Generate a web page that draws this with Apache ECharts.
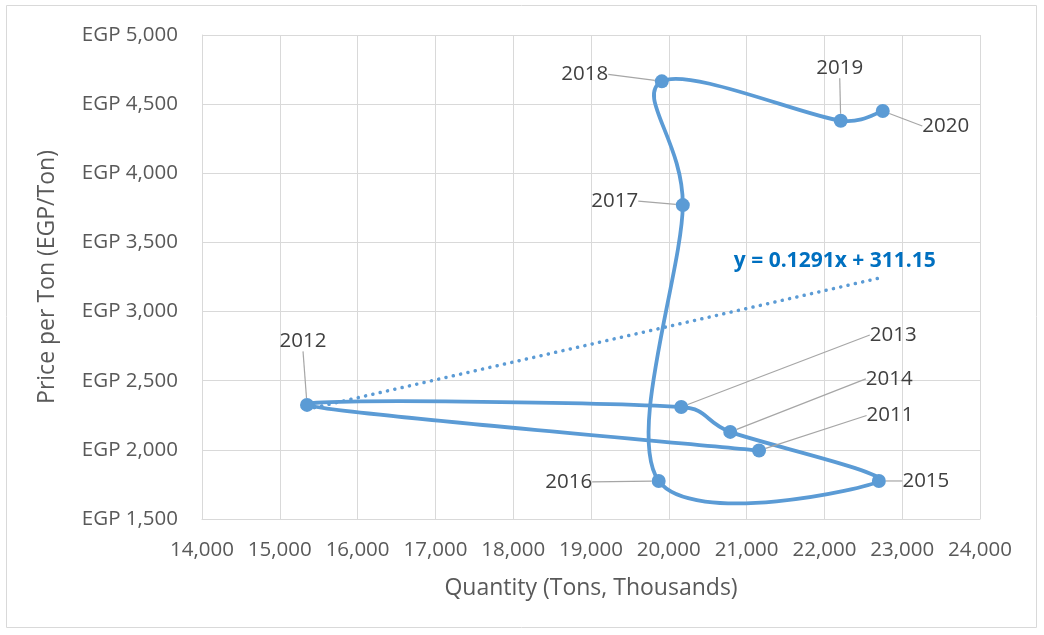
<!DOCTYPE html>
<html>
<head>
<meta charset="utf-8">
<script src="https://cdn.jsdelivr.net/npm/echarts@6/dist/echarts.min.js"></script>
<style>
  html, body { margin: 0; padding: 0; background: #fff; }
  #chart { width: 1044px; height: 635px; }
</style>
</head>
<body>
<div id="chart"></div>
<script>
// data, in year order
const years = ['2011', '2012', '2013', '2014', '2015', '2016', '2017', '2018', '2019', '2020']
const quantity = [21160, 15350, 20160, 20790, 22700, 19870, 20180, 19910, 22210, 22750]
const price = [1995, 2325, 2310, 2130, 1775, 1775, 3770, 4665, 4380, 4450]
const trendX = [15350, 22750]
const trendY = [2293, 3248]
const trendText = 'y = 0.1291x + 311.15'

// label offsets (pixels) from each point, like the Excel label placement
const labelOffsets = [
  [131, -35], [-4, -64], [212, -72], [159, -53], [47, 0],
  [-90, 1], [-68, -4], [-77, -7], [-1, -53], [63, 15]
]

const font = 'Open Sans'
const grey = '#595959'
const blue = '#5b9bd5'

let chart = echarts.init(document.getElementById('chart'))

function dist(a, b) {
  return Math.hypot(a[0] - b[0], a[1] - b[1])
}

// Excel style smoothed segment: 1/6 tension, control arms capped at half the segment
function smoothSegment(params, api) {
  let i = params.dataIndex
  if (i >= quantity.length - 1) return null
  let pt = k => {
    k = Math.max(0, Math.min(quantity.length - 1, k))
    return api.coord([quantity[k], price[k]])
  }
  let p0 = pt(i - 1)
  let p1 = pt(i)
  let p2 = pt(i + 1)
  let p3 = pt(i + 2)
  let d12 = dist(p1, p2)
  let d02 = dist(p0, p2)
  let d13 = dist(p1, p3)
  let f0 = d02 / 6 < d12 / 2 ? 1 / 6 : d12 / d02 / 2
  let f1 = d13 / 6 < d12 / 2 ? 1 / 6 : d12 / d13 / 2
  return {
    type: 'bezierCurve',
    shape: {
      x1: p1[0],
      y1: p1[1],
      x2: p2[0],
      y2: p2[1],
      cpx1: p1[0] + (p2[0] - p0[0]) * f0,
      cpy1: p1[1] + (p2[1] - p0[1]) * f0,
      cpx2: p2[0] - (p3[0] - p1[0]) * f1,
      cpy2: p2[1] - (p3[1] - p1[1]) * f1
    },
    style: { fill: null, stroke: blue, lineWidth: 3.8, lineCap: 'round' }
  }
}

let option = {
  animation: false,
  textStyle: { fontFamily: font },
  graphic: [
    {
      type: 'rect',
      shape: { x: 6.5, y: 5.5, width: 1030, height: 622 },
      style: { fill: 'none', stroke: '#d9d9d9', lineWidth: 1 },
      silent: true
    }
  ],
  grid: {
    left: 202,
    right: 64,
    top: 35,
    bottom: 116
  },
  xAxis: {
    type: 'value',
    min: 14000,
    max: 24000,
    interval: 1000,
    name: 'Quantity (Tons, Thousands)',
    nameLocation: 'middle',
    nameGap: 58,
    nameTextStyle: { color: grey, fontSize: 23, fontFamily: font },
    axisLine: { show: true, lineStyle: { color: '#d9d9d9' } },
    axisTick: { show: false },
    axisLabel: {
      color: grey,
      fontSize: 20.5,
      margin: 21,
      formatter: v => v.toLocaleString('en-US')
    },
    splitLine: { show: true, lineStyle: { color: '#d9d9d9', width: 1 } }
  },
  yAxis: {
    type: 'value',
    min: 1500,
    max: 5000,
    interval: 500,
    name: 'Price per Ton (EGP/Ton)',
    nameLocation: 'middle',
    nameGap: 143,
    nameTextStyle: { color: grey, fontSize: 23, fontFamily: font },
    axisLine: { show: true, lineStyle: { color: '#d9d9d9' } },
    axisTick: { show: false },
    axisLabel: {
      color: grey,
      fontSize: 20.5,
      margin: 24,
      formatter: v => 'EGP ' + v.toLocaleString('en-US')
    },
    splitLine: { show: true, lineStyle: { color: '#d9d9d9', width: 1 } }
  },
  series: [
    {
      name: 'Trend',
      type: 'line',
      data: trendX.map((x, i) => {
        let item = { value: [x, trendY[i]] }
        if (i === trendX.length - 1) {
          item.label = {
            show: true,
            position: 'top',
            offset: [-48, -1],
            formatter: trendText,
            color: '#0070c0',
            fontWeight: 'bold',
            fontSize: 21,
            fontFamily: font
          }
        }
        return item
      }),
      showSymbol: true,
      symbolSize: 0,
      lineStyle: { color: blue, width: 3.5, type: [0.1, 7.4], cap: 'round' },
      silent: true,
      z: 1
    },
    {
      name: 'Curve',
      type: 'custom',
      data: quantity.map((q, i) => [q, price[i]]),
      renderItem: smoothSegment,
      silent: true,
      z: 2
    },
    {
      name: 'Price',
      type: 'scatter',
      data: quantity.map((q, i) => [q, price[i]]),
      symbol: 'circle',
      symbolSize: 14,
      itemStyle: { color: blue, opacity: 1 },
      label: {
        show: true,
        position: 'inside',
        formatter: p => years[p.dataIndex],
        color: '#404040',
        fontSize: 20.5,
        fontFamily: font
      },
      labelLine: {
        show: true,
        lineStyle: { color: '#a6a6a6', width: 1.2 }
      },
      labelLayout: p => ({
        dx: labelOffsets[p.dataIndex][0],
        dy: labelOffsets[p.dataIndex][1]
      }),
      z: 3
    }
  ]
}

chart.setOption(option)
</script>
</body>
</html>
